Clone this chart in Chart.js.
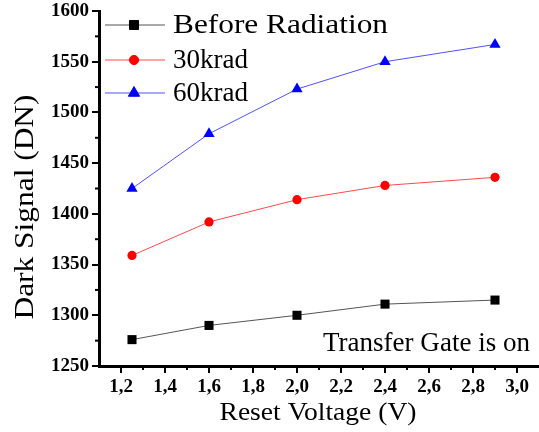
<!DOCTYPE html>
<html>
<head>
<meta charset="utf-8">
<script src="https://cdn.jsdelivr.net/npm/chart.js@4"></script>
<style>
  body { margin: 0; background: #fff; }
  #wrap { width: 539px; height: 432px; }
</style>
</head>
<body>
<div id="wrap"><canvas id="darkChart" width="539" height="432"></canvas></div>
<script>
// data
const resetVoltage = [1.25, 1.6, 2.0, 2.4, 2.9];
const beforeRadiation = [1276, 1290, 1300, 1311, 1315];
const krad30 = [1359, 1392, 1414, 1428, 1436];
const krad60 = [1425, 1479, 1523, 1550, 1567];
const seriesNames = ['Before Radiation', '30krad', '60krad'];

const serif = '"Liberation Serif", "Times New Roman", serif';

function pts(ys) {
    return resetVoltage.map((x, i) => ({ x: x, y: ys[i] }));
}

// text squeezed/stretched to a given width (the figure's font is wider than Times)
function stretchText(ctx, text, x, y, size, width, align) {
    ctx.font = size + 'px ' + serif;
    const s = width / ctx.measureText(text).width;
    ctx.save();
    ctx.translate(x, y);
    ctx.scale(s, 1);
    ctx.textAlign = align;
    ctx.fillText(text, 0, 0);
    ctx.restore();
}

// minor ticks, titles, legend and note text
const extras = {
    id: 'extras',
    afterDraw(chart) {
        const ctx = chart.ctx;
        const xs = chart.scales.x, ys = chart.scales.y;
        const area = chart.chartArea;
        ctx.save();
        ctx.strokeStyle = '#000';
        ctx.lineWidth = 2;
        for (let v = 1.3; v < 3.1; v += 0.2) {
            const px = xs.getPixelForValue(v);
            ctx.beginPath();
            ctx.moveTo(px, area.bottom);
            ctx.lineTo(px, area.bottom + 4);
            ctx.stroke();
        }
        for (let v = 1275; v < 1600; v += 50) {
            const py = ys.getPixelForValue(v);
            ctx.beginPath();
            ctx.moveTo(area.left, py);
            ctx.lineTo(area.left - 4, py);
            ctx.stroke();
        }

        ctx.fillStyle = '#000';
        ctx.textBaseline = 'alphabetic';
        // axis titles
        stretchText(ctx, 'Reset Voltage (V)', 318, 420, 26, 197, 'center');
        ctx.save();
        ctx.translate(33, 207);
        ctx.rotate(-Math.PI / 2);
        stretchText(ctx, 'Dark Signal (DN)', 0, 0, 27, 225, 'center');
        ctx.restore();

        // legend inside plot
        const rows = [25, 60, 93];
        const widths = [215, 75, 75];
        chart.data.datasets.forEach((ds, i) => {
            const y = rows[i];
            ctx.strokeStyle = ds.borderColor;
            ctx.lineWidth = 1;
            ctx.beginPath();
            ctx.moveTo(105, y);
            ctx.lineTo(165, y);
            ctx.stroke();
            ctx.fillStyle = ds.pointBackgroundColor;
            ctx.strokeStyle = ds.pointBackgroundColor;
            Chart.helpers.drawPoint(ctx, { pointStyle: ds.pointStyle, radius: ds.pointRadius, borderWidth: 1 }, 134, y);
            ctx.fillStyle = '#000';
            ctx.textBaseline = 'middle';
            stretchText(ctx, ds.label, 173, y + 1, 27, widths[i], 'left');
        });

        ctx.textBaseline = 'alphabetic';
        stretchText(ctx, 'Transfer Gate is on', 530, 351, 27, 207, 'right');
        ctx.restore();
    }
};

const ctx = document.getElementById('darkChart').getContext('2d');
new Chart(ctx, {
    type: 'line',
    data: {
        datasets: [{
            label: seriesNames[0],
            data: pts(beforeRadiation),
            borderColor: '#555555',
            borderWidth: 1,
            pointStyle: 'rect',
            pointRadius: 6.4,
            pointBackgroundColor: '#000000',
            pointBorderColor: '#000000',
            pointBorderWidth: 0
        }, {
            label: seriesNames[1],
            data: pts(krad30),
            borderColor: '#ff4a4a',
            borderWidth: 1,
            pointStyle: 'circle',
            pointRadius: 4.6,
            pointBackgroundColor: '#ff0000',
            pointBorderColor: '#ff0000',
            pointBorderWidth: 0
        }, {
            label: seriesNames[2],
            data: pts(krad60),
            borderColor: '#5050ff',
            borderWidth: 1,
            pointStyle: 'triangle',
            pointRadius: 6.5,
            pointBackgroundColor: '#0000ff',
            pointBorderColor: '#0000ff',
            pointBorderWidth: 0
        }]
    },
    options: {
        responsive: false,
        animation: false,
        layout: { autoPadding: false, padding: { top: 11, right: 0, left: 0, bottom: 0 } },
        plugins: { legend: { display: false }, tooltip: { enabled: false } },
        scales: {
            x: {
                type: 'linear',
                min: 1.1,
                max: 3.1,
                afterBuildTicks(scale) {
                    const t = [];
                    for (let v = 1.2; v <= 3.01; v += 0.2) t.push({ value: Math.round(v * 10) / 10 });
                    scale.ticks = t;
                },
                afterFit(scale) {
                    scale.height = 66;
                    scale.paddingRight = 0;
                    scale.paddingLeft = 0;
                },
                border: { color: '#000', width: 3 },
                grid: { drawOnChartArea: false, color: '#000', tickLength: 7, lineWidth: 2 },
                ticks: {
                    color: '#000',
                    padding: 3,
                    font: { family: serif, size: 19, weight: 'bold' },
                    callback: v => v.toFixed(1).replace('.', ',')
                }
            },
            y: {
                min: 1250,
                max: 1600,
                afterFit(scale) {
                    scale.width = 99;
                    scale.paddingTop = 0;
                    scale.paddingBottom = 0;
                },
                border: { color: '#000', width: 3 },
                grid: { drawOnChartArea: false, color: '#000', tickLength: 7, lineWidth: 2 },
                ticks: {
                    stepSize: 50,
                    color: '#000',
                    padding: 3,
                    font: { family: serif, size: 19, weight: 'bold' },
                    callback: v => String(v)
                }
            }
        }
    },
    plugins: [extras]
});
</script>
</body>
</html>
